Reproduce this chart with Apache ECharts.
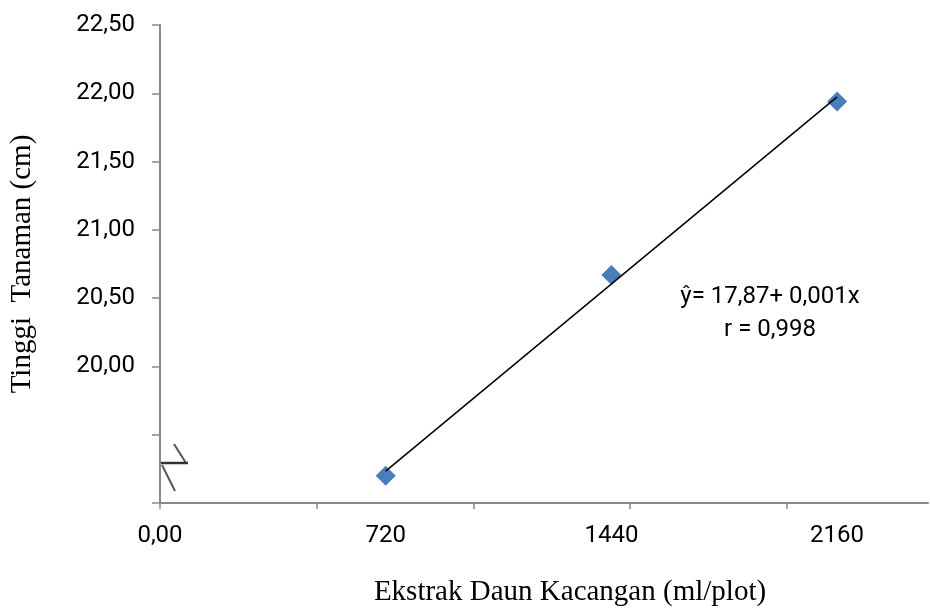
<!DOCTYPE html>
<html>
<head>
<meta charset="utf-8">
<script src="https://cdn.jsdelivr.net/npm/echarts@6/dist/echarts.min.js"></script>
<style>
  html, body { margin: 0; padding: 0; background: #fff; }
  #chart { width: 930px; height: 608px; }
</style>
</head>
<body>
<div id="chart"></div>
<script>
// Plant height vs. peanut-leaf extract dose
const doses = [720, 1440, 2160];
const heights = [19.20, 20.67, 21.94];

const xTickValues = [0, 720, 1440, 2160];
const xTickLabels = ['0,00', '720', '1440', '2160'];
const xMinorTicks = [0, 500, 1000, 1500, 2000];

const equationText = 'ŷ= 17,87+ 0,001x';
const corrText = 'r = 0,998';

// least-squares trend line through the observed points
function fitLine(xs, ys) {
  const n = xs.length;
  const mx = xs.reduce((a, b) => a + b, 0) / n;
  const my = ys.reduce((a, b) => a + b, 0) / n;
  let sxy = 0, sxx = 0;
  for (let i = 0; i < n; i++) {
    sxy += (xs[i] - mx) * (ys[i] - my);
    sxx += (xs[i] - mx) * (xs[i] - mx);
  }
  const b = sxy / sxx;
  const a = my - b * mx;
  return x => a + b * x;
}
const trend = fitLine(doses, heights);
const xFirst = doses[0], xLast = doses[doses.length - 1];
const trendData = [[xFirst, trend(xFirst)], [xLast, trend(xLast)]];

const chart = echarts.init(document.getElementById('chart'));
const axisGray = '#888888';
const labelFont = 'Roboto, "Liberation Sans", sans-serif';
const serif = '"Liberation Serif", "Times New Roman", serif';

chart.setOption({
  animation: false,
  grid: { left: 160, top: 25, right: 2, bottom: 105, containLabel: false, outerBoundsMode: 'none' },
  xAxis: {
    type: 'value',
    min: 0,
    max: 2450,
    interval: 500,
    splitLine: { show: false },
    axisLine: { show: true, lineStyle: { color: axisGray, width: 2 } },
    axisTick: { show: true, customValues: xMinorTicks, length: 6, lineStyle: { color: axisGray, width: 1.5 } },
    axisLabel: {
      customValues: xTickValues,
      formatter: v => xTickLabels[xTickValues.indexOf(v)] || '',
      color: '#000', fontFamily: labelFont, fontSize: 24, margin: 21
    },
    name: 'Ekstrak Daun Kacangan (ml/plot)',
    nameLocation: 'middle',
    nameGap: 75,
    nameTextStyle: { fontFamily: serif, fontSize: 29, color: '#000', padding: [0, 0, 0, 52] }
  },
  yAxis: {
    type: 'value',
    min: 19,
    max: 22.5,
    interval: 0.5,
    splitLine: { show: false },
    axisLine: { show: true, lineStyle: { color: axisGray, width: 2 } },
    axisTick: { show: true, length: 8, lineStyle: { color: axisGray, width: 1.5 } },
    axisLabel: {
      formatter: v => (v >= 20 ? v.toFixed(2).replace('.', ',') : ''),
      color: '#000', fontFamily: labelFont, fontSize: 24, margin: 25
    },
    name: 'Tinggi  Tanaman (cm)',
    nameLocation: 'middle',
    nameGap: 123,
    nameTextStyle: { fontFamily: serif, fontSize: 29, color: '#000' }
  },
  series: [
    {
      type: 'scatter',
      data: doses.map((d, i) => [d, heights[i]]),
      symbol: 'diamond',
      symbolSize: [20, 20],
      itemStyle: { color: '#4a7ebb', opacity: 1 },
      z: 2
    },
    {
      type: 'line',
      data: trendData,
      symbol: 'none',
      lineStyle: { color: '#000', width: 1.5 },
      z: 3
    }
  ],
  graphic: [
    {
      type: 'group',
      z: 100,
      children: [
        { type: 'rect', shape: { x: 145, y: 444, width: 44, height: 52 }, style: { fill: '#fff' } },
        { type: 'polyline', shape: { points: [[174, 444], [186, 463]] }, style: { stroke: '#555', lineWidth: 2, fill: null } },
        { type: 'polyline', shape: { points: [[161, 463], [188, 463]] }, style: { stroke: '#333', lineWidth: 2.5, fill: null } },
        { type: 'polyline', shape: { points: [[162, 465], [175, 491]] }, style: { stroke: '#555', lineWidth: 2, fill: null } }
      ]
    },
    {
      type: 'text',
      x: 770,
      y: 297,
      style: { text: equationText, fontFamily: labelFont, fontSize: 24, fill: '#000', align: 'center', verticalAlign: 'middle' }
    },
    {
      type: 'text',
      x: 770,
      y: 330,
      style: { text: corrText, fontFamily: labelFont, fontSize: 24, fill: '#000', align: 'center', verticalAlign: 'middle' }
    }
  ]
});
</script>
</body>
</html>
